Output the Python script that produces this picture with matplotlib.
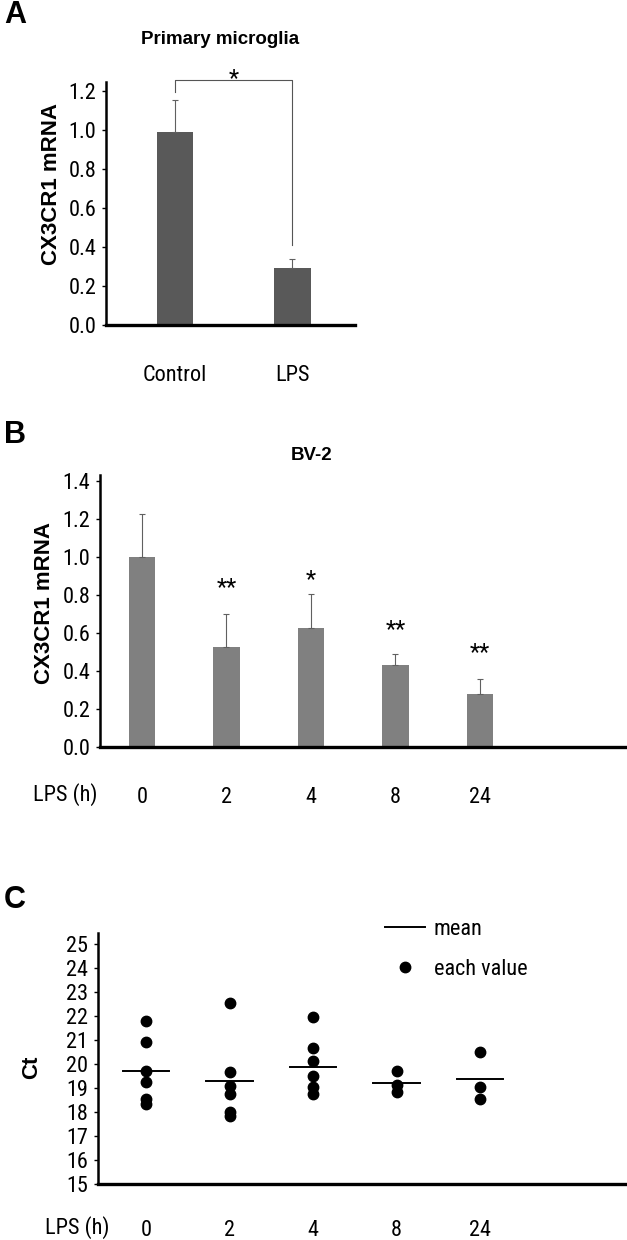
import matplotlib
matplotlib.use('Agg')
import matplotlib.pyplot as plt
from matplotlib import font_manager
from matplotlib.ticker import FormatStrFormatter
from matplotlib.lines import Line2D
import numpy as np

# narrow sans if one is installed, otherwise plain Arial-like
names = set(f.name for f in font_manager.fontManager.ttflist)
body_font = 'Liberation Sans'
for cand in ['Liberation Sans Narrow', 'Arial Narrow', 'Roboto Condensed', 'Open Sans Condensed']:
    if cand in names:
        body_font = cand
        break
plt.rcParams['font.family'] = [body_font, 'Liberation Sans', 'DejaVu Sans']
FS = 16

# panel A - primary microglia
a_groups = ['Control', 'LPS']
a_mean = [0.99, 0.29]
a_err = [0.165, 0.05]

# panel B - BV-2 time course
b_hours = ['0', '2', '4', '8', '24']
b_mean = [1.00, 0.526, 0.626, 0.43, 0.28]
b_err = [0.226, 0.174, 0.179, 0.06, 0.078]
b_stars = ['', '**', '*', '**', '**']
b_star_y = [0, 0.84, 0.88, 0.62, 0.495]

# panel C - Ct values per time point
c_hours = ['0', '2', '4', '8', '24']
c_values = [
    [21.78, 20.93, 19.72, 19.24, 18.54, 18.33],
    [22.54, 19.68, 19.07, 18.75, 17.99, 17.82],
    [21.94, 20.67, 20.11, 19.49, 19.03, 18.75],
    [19.70, 19.13, 18.85],
    [20.49, 19.05, 18.54],
]
c_means = [19.72, 19.28, 19.86, 19.20, 19.37]

W, H = 627, 1240
fig = plt.figure(figsize=(W / 100, H / 100), dpi=100)


def px_axes(l, t, r, b):
    return fig.add_axes([l / W, 1 - b / H, (r - l) / W, (b - t) / H])


def style(ax):
    ax.spines['top'].set_visible(False)
    ax.spines['right'].set_visible(False)
    ax.spines['left'].set_linewidth(1.8)
    ax.spines['bottom'].set_linewidth(2.4)
    ax.tick_params(axis='y', direction='out', length=3, width=1, pad=4, labelsize=FS)
    ax.tick_params(axis='x', length=0, pad=29, labelsize=FS)


# ---- A ----
axA = px_axes(106, 82, 355, 325)
xa = np.arange(len(a_groups))
axA.bar(xa, a_mean, width=0.31, color='#595959', zorder=2)
axA.errorbar(xa, a_mean, yerr=[np.zeros(2), a_err], fmt='none', ecolor='#606060',
             elinewidth=0.8, capsize=2.5, capthick=0.8, zorder=3)
axA.set_xlim(-0.587, 1.532)
axA.set_ylim(0, 1.246)
axA.set_yticks(np.arange(0, 1.21, 0.2))
axA.yaxis.set_major_formatter(FormatStrFormatter('%.1f'))
axA.set_xticks(xa)
axA.set_xticklabels(a_groups)
style(axA)
axA.set_ylabel('CX3CR1 mRNA', fontsize=16, fontweight='bold', family='Liberation Sans')
axA.yaxis.set_label_coords(-0.177, 0.58)
# significance bracket
axA.plot([0, 0, 1, 1], [1.195, 1.256, 1.256, 0.41], color='#555555', lw=0.8, clip_on=False)
axA.text(0.5, 1.265, '*', ha='center', va='center', fontsize=17, clip_on=False)
fig.text(220 / W, 1 - 39 / H, 'Primary microglia', ha='center', va='center',
         fontsize=13.5, fontweight='bold', family='Liberation Sans')

# ---- B ----
axB = px_axes(100, 475, 627, 747)
xb = np.arange(len(b_hours))
axB.bar(xb, b_mean, width=0.31, color='#808080', zorder=2)
axB.errorbar(xb, b_mean, yerr=[np.zeros(len(xb)), b_err], fmt='none', ecolor='#606060',
             elinewidth=0.8, capsize=2.5, capthick=0.8, zorder=3)
for i in range(len(xb)):
    if b_stars[i]:
        axB.text(xb[i], b_star_y[i], b_stars[i], ha='center', va='center', fontsize=17)
axB.set_xlim(-0.497, 5.74)
axB.set_ylim(0, 1.432)
axB.set_yticks(np.arange(0, 1.41, 0.2))
axB.yaxis.set_major_formatter(FormatStrFormatter('%.1f'))
axB.set_xticks(xb)
axB.set_xticklabels(b_hours)
style(axB)
axB.set_ylabel('CX3CR1 mRNA', fontsize=16, fontweight='bold', family='Liberation Sans')
axB.yaxis.set_label_coords(-0.085, 0.53)
fig.text(65 / W, 1 - 795 / H, 'LPS (h)', ha='center', va='center', fontsize=FS)
fig.text(312 / W, 1 - 455 / H, 'BV-2', ha='center', va='center',
         fontsize=13.5, fontweight='bold', family='Liberation Sans')

# ---- C ----
axC = px_axes(98, 933, 627, 1184)
xc = np.arange(len(c_hours))
for i, vals in enumerate(c_values):
    axC.plot([xc[i]] * len(vals), vals, 'o', color='black', markersize=7.5, zorder=3)
    axC.plot([xc[i] - 0.28, xc[i] + 0.28], [c_means[i], c_means[i]], color='black', lw=1.4, zorder=4)
axC.set_xlim(-0.575, 5.76)
axC.set_ylim(15, 25.46)
axC.set_yticks(np.arange(15, 26, 1))
axC.set_xticks(xc)
axC.set_xticklabels(c_hours)
style(axC)
axC.tick_params(axis='x', pad=26)
axC.set_ylabel('Ct', fontsize=16, fontweight='bold', family='Liberation Sans')
axC.yaxis.set_label_coords(-0.106, 0.466)
fig.text(77 / W, 1 - 1228 / H, 'LPS (h)', ha='center', va='center', fontsize=FS)
handles = [Line2D([], [], color='black', lw=1.4),
           Line2D([], [], color='black', marker='o', ls='none', markersize=7.5)]
fig.legend(handles, ['mean', 'each value'], loc='upper left',
           bbox_to_anchor=(385 / W, 1 - 919 / H), frameon=False, fontsize=FS,
           handlelength=1.8, handletextpad=0.4, labelspacing=0.85, borderpad=0,
           borderaxespad=0)

# panel letters
for lab, y in [('A', 15), ('B', 435), ('C', 900)]:
    fig.text(4 / W, 1 - y / H, lab, ha='left', va='center', fontsize=22,
             fontweight='bold', family='Liberation Sans')

fig.savefig('out.png', dpi=100)
